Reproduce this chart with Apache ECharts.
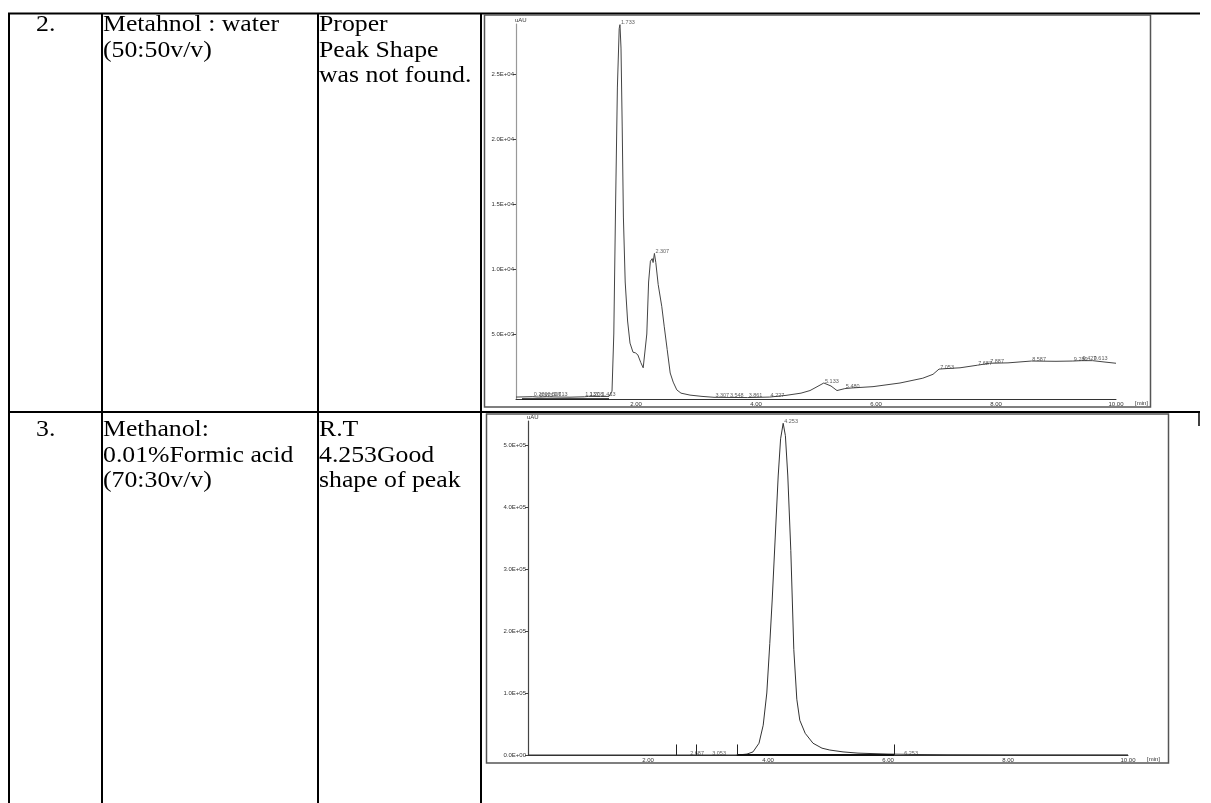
<!DOCTYPE html>
<html>
<head>
<meta charset="utf-8">
<script src="https://cdn.jsdelivr.net/npm/echarts@6/dist/echarts.min.js"></script>
<style>
  html, body { margin: 0; padding: 0; background: #fff; }
  #page { width: 1211px; height: 803px; }
</style>
</head>
<body>
<div id="page"></div>
<script>
// table text
const rowNumbers = ['2.', '3.'];
const mobilePhase = [
    ['Metahnol : water', '(50:50v/v)'],
    ['Methanol:', '0.01%Formic acid', '(70:30v/v)']
];
const remarks = [
    ['Proper', 'Peak Shape', 'was not found.'],
    ['R.T', '4.253Good', 'shape of peak']
];

// run 2 : methanol / water chromatogram (min, uAU)
const run2Time = [0.00, 0.28, 0.37, 0.51, 0.61, 0.90, 1.14, 1.21, 1.41, 1.55, 1.60, 1.63, 1.66, 1.69, 1.72, 1.733,
    1.75, 1.77, 1.79, 1.82, 1.86, 1.90, 1.95, 1.99, 2.03, 2.08, 2.12, 2.15, 2.18, 2.21, 2.24, 2.27, 2.285, 2.307,
    2.33, 2.37, 2.43, 2.47, 2.52, 2.57, 2.62, 2.68, 2.75, 2.90, 3.10, 3.30, 3.55, 3.86, 4.23, 4.50, 4.75, 4.90,
    5.00, 5.13, 5.25, 5.35, 5.48, 5.60, 5.95, 6.40, 6.78, 6.95, 7.05, 7.20, 7.40, 7.69, 7.89, 8.20, 8.59, 9.00,
    9.28, 9.43, 9.61, 9.80, 10.00];
const run2Signal = [150, 180, 150, 170, 160, 140, 170, 200, 190, 200, 600, 5000, 15000, 24000, 28500, 28800,
    27000, 21000, 14000, 9000, 6000, 4300, 3600, 3550, 3400, 2800, 2400, 2500, 5000, 9000, 10600, 10800, 10500, 11200,
    10500, 8800, 7100, 5600, 3800, 2000, 1300, 700, 450, 300, 200, 130, 120, 110, 150, 280, 450, 650,
    900, 1230, 1000, 650, 800, 850, 950, 1230, 1600, 1900, 2300, 2350, 2400, 2600, 2750, 2780, 2920, 2900,
    2920, 2950, 2950, 2850, 2750];
const run2PeakRT = [0.280, 0.373, 0.507, 0.613, 1.137, 1.208, 1.413, 1.733, 2.307, 3.307, 3.548, 3.861, 4.227,
    5.133, 5.480, 7.053, 7.687, 7.887, 8.587, 9.280, 9.427, 9.613];
const run2PeakHeight = [180, 150, 170, 160, 170, 200, 190, 28800, 11200, 130, 120, 110, 150,
    1230, 800, 2300, 2600, 2750, 2920, 2920, 2950, 2950];
const run2YTicks = [5000, 10000, 15000, 20000, 25000];

// run 3 : methanol / 0.01% formic acid chromatogram (min, uAU)
const run3Time = [0.00, 2.00, 2.47, 2.80, 3.48, 3.55, 3.65, 3.75, 3.85, 3.92, 3.98, 4.03, 4.07, 4.12, 4.17, 4.21,
    4.253, 4.29, 4.33, 4.38, 4.43, 4.48, 4.53, 4.62, 4.75, 4.90, 5.03, 5.25, 5.50, 6.00, 6.50, 7.00, 8.00, 10.00];
const run3Signal = [0, 0, 0, 0, 0, 500, 1500, 5000, 19000, 48000, 100000, 180000, 250000, 350000, 450000, 510000,
    535000, 515000, 450000, 330000, 170000, 90000, 56000, 35000, 19000, 11000, 8000, 5000, 3000, 1500, 800, 500, 300, 200];
const run3PeakRT = [2.687, 3.053, 4.253, 6.253];
const run3PeakHeight = [0, 0, 535000, 0];
const run3EventRT = [2.47, 2.80, 3.48, 6.10];
const run3YTicks = [0, 100000, 200000, 300000, 400000, 500000];

const xTicks = [2, 4, 6, 8, 10];

document.addEventListener('DOMContentLoaded', () => {
    const chart = echarts.init(document.getElementById('page'));

    const sci = (v) => {
        const [m, e] = v.toExponential(1).split('e');
        return m + 'E' + e[0] + e.slice(1).padStart(2, '0');
    };
    const pairs = (xs, ys) => xs.map((x, i) => [x, ys[i]]);
    const serif = 'Liberation Serif';
    const small = { fontFamily: 'Liberation Sans', fontSize: 6, color: '#333' };

    // table rules and cell text
    const graphic = [];
    const hLine = (x1, x2, y, w) => graphic.push({ type: 'line', shape: { x1, y1: y, x2, y2: y }, style: { stroke: '#000', lineWidth: w } });
    const vLine = (x, y1, y2, w) => graphic.push({ type: 'line', shape: { x1: x, y1, x2: x, y2 }, style: { stroke: '#000', lineWidth: w } });
    hLine(8, 1200, 13.5, 2);
    hLine(8, 1200, 412, 2);
    vLine(9, 13, 803, 2);
    vLine(102, 13, 803, 2);
    vLine(318, 13, 803, 2);
    vLine(481, 13, 803, 2);
    vLine(1199, 412, 426, 1.5);

    // chromatogram frames
    graphic.push({ type: 'rect', shape: { x: 484.5, y: 15, width: 666, height: 392 }, style: { fill: 'none', stroke: '#555', lineWidth: 1.5 } });
    graphic.push({ type: 'rect', shape: { x: 486.5, y: 414, width: 682, height: 349 }, style: { fill: 'none', stroke: '#555', lineWidth: 1.5 } });

    const rowTop = [25, 430];
    const lineGap = 25.5;
    const addText = (text, x, y) => graphic.push({
        type: 'text', x, y, scaleX: 1.12,
        style: { text, font: `23px "${serif}"`, fill: '#000', align: 'left', verticalAlign: 'middle' }
    });
    [0, 1].forEach(r => {
        addText(rowNumbers[r], 36, rowTop[r]);
        mobilePhase[r].forEach((t, i) => addText(t, 103, rowTop[r] + i * lineGap));
        remarks[r].forEach((t, i) => addText(t, 319, rowTop[r] + i * lineGap));
    });

    const xAxisBase = (gridIndex) => ({
        type: 'value', gridIndex, min: 0, max: 10,
        name: '[min]', nameLocation: 'end', nameGap: 19,
        nameTextStyle: { ...small, verticalAlign: 'top', padding: [1, 0, 0, 0] },
        axisLine: { lineStyle: { color: '#333', width: 1 } },
        axisTick: { show: false },
        axisLabel: { ...small, margin: 2, customValues: xTicks, formatter: v => v.toFixed(2) },
        splitLine: { show: false }
    });
    const yAxisBase = (gridIndex, max, ticks, color) => ({
        type: 'value', gridIndex, min: 0, max,
        name: 'uAU', nameLocation: 'end', nameGap: 1,
        nameTextStyle: { ...small, align: 'left', padding: [0, 0, 0, -1] },
        axisLine: { show: true, lineStyle: { color, width: 1.2 } },
        axisTick: { show: true, inside: false, length: 3, customValues: ticks, lineStyle: { color: '#444' } },
        axisLabel: { ...small, margin: 2, customValues: ticks, formatter: sci },
        splitLine: { show: false }
    });

    const peakLabels = (xAxisIndex, yAxisIndex, rt, h) => ({
        type: 'scatter', xAxisIndex, yAxisIndex,
        data: rt.map((x, i) => [x, h[i]]),
        symbolSize: 0, silent: true,
        label: { show: true, position: [1, -5], ...small, fontSize: 5.5, formatter: p => p.value[0].toFixed(3) },
        z: 5
    });

    chart.setOption({
        animation: false,
        backgroundColor: '#fff',
        graphic,
        grid: [
            { left: 516, top: 24, width: 600, height: 375 },
            { left: 528, top: 421, width: 600, height: 334 }
        ],
        xAxis: [xAxisBase(0), xAxisBase(1)],
        yAxis: [
            yAxisBase(0, 28850, run2YTicks, '#999'),
            yAxisBase(1, 538700, run3YTicks, '#444')
        ],
        series: [
            {
                type: 'line', xAxisIndex: 0, yAxisIndex: 0,
                data: pairs(run2Time, run2Signal),
                symbol: 'none', lineStyle: { color: '#444', width: 1 }
            },
            {
                type: 'line', xAxisIndex: 0, yAxisIndex: 0,
                data: [[0.1, 0], [1.55, 0]],
                symbol: 'none', lineStyle: { color: '#111', width: 1.6 }
            },
            peakLabels(0, 0, run2PeakRT, run2PeakHeight),
            {
                type: 'line', xAxisIndex: 1, yAxisIndex: 1,
                data: pairs(run3Time, run3Signal),
                symbol: 'none', lineStyle: { color: '#333', width: 1 },
                markLine: {
                    silent: true, symbol: 'none', label: { show: false },
                    lineStyle: { color: '#222', width: 1, type: 'solid' },
                    data: run3EventRT.map(x => [{ coord: [x, 0] }, { coord: [x, 17000] }])
                }
            },
            {
                type: 'line', xAxisIndex: 1, yAxisIndex: 1,
                data: [[3.48, 0], [6.1, 0]],
                symbol: 'none', lineStyle: { color: '#111', width: 1.8 }
            },
            peakLabels(1, 1, run3PeakRT, run3PeakHeight)
        ]
    });
});
</script>
</body>
</html>
